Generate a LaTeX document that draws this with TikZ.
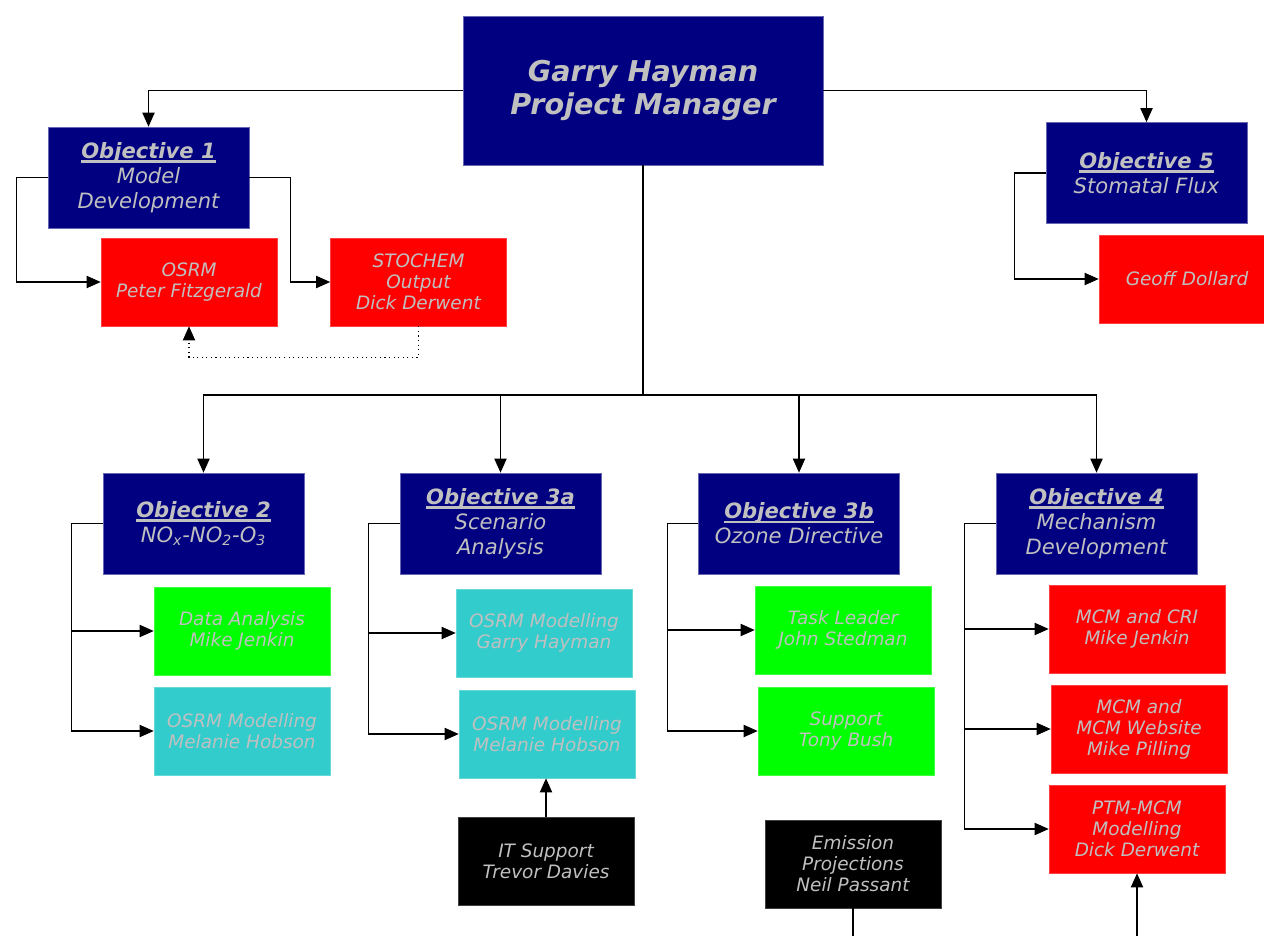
\documentclass[tikz,border=0pt]{standalone}
\usepackage{fontspec}
\setmainfont{DejaVu Sans}
\usetikzlibrary{arrows.meta}
\definecolor{objBlue}{HTML}{000080}
\definecolor{taskRed}{HTML}{FF0000}
\definecolor{taskGreen}{HTML}{00FF00}
\definecolor{taskTeal}{HTML}{33CCCC}
\definecolor{txtGrey}{HTML}{C0C0C0}
\newcommand{\objhead}[1]{\setbox0\hbox{\textbf{#1}}\rlap{\raisebox{-2.4pt}{\rule{\wd0}{1.3pt}}}\box0}

\begin{document}
\begin{tikzpicture}[x=0.02cm,y=-0.02cm,
  base/.style={rectangle,inner sep=0pt,align=center,text=txtGrey},
  mgr/.style={base,fill=objBlue,draw=objBlue!60!white,minimum width=7.2cm,minimum height=2.98cm,
    font=\bfseries\itshape\fontsize{16.3}{19.3}\selectfont},
  obj/.style={base,fill=objBlue,draw=objBlue!60!white,minimum width=4.02cm,minimum height=2.02cm,
    font=\itshape\fontsize{12}{14.2}\selectfont},
  task/.style={base,fill=#1,draw=#1!75!white,minimum width=3.52cm,minimum height=1.76cm,
    font=\itshape\fontsize{10.5}{11.9}\selectfont},
  arr/.style={-{Triangle[length=8pt,width=7pt]},line width=0.6pt}]
  \useasboundingbox (0,0) rectangle (1264,936);
  % manager and objectives
  \node[mgr] (pm) at (643,90.5) {Garry Hayman\\Project Manager};
  \node[obj] (o1) at (148.5,177.5) {\objhead{Objective 1}\\Model\\Development};
  \node[obj] (o5) at (1146.5,173) {\objhead{Objective 5}\\Stomatal Flux};
  \node[obj] (o2) at (203.5,523.5) {\objhead{Objective 2}\\NO\textsubscript{x}-NO\textsubscript{2}-O\textsubscript{3}};
  \node[obj] (o3a) at (500.5,523.5) {\objhead{Objective 3a}\\Scenario\\Analysis};
  \node[obj] (o3b) at (799,523.5) {\objhead{Objective 3b}\\Ozone Directive};
  \node[obj] (o4) at (1096.5,523.5) {\objhead{Objective 4}\\Mechanism\\Development};
  % tasks
  \node[task=taskRed] (pf) at (189,282) {OSRM\\Peter Fitzgerald};
  \node[task=taskRed] (st) at (418.5,282) {STOCHEM\\Output\\Dick Derwent};
  \node[task=taskRed] (gd) at (1187,279) {Geoff Dollard};
  \node[task=taskGreen] (da) at (242,631) {Data Analysis\\Mike Jenkin};
  \node[task=taskTeal] (mh2) at (242,731) {OSRM Modelling\\Melanie Hobson};
  \node[task=taskTeal] (gh) at (544,633) {OSRM Modelling\\Garry Hayman};
  \node[task=taskTeal] (mh3) at (547,734) {OSRM Modelling\\Melanie Hobson};
  \node[task=black] (it) at (546,861) {IT Support\\Trevor Davies};
  \node[task=taskGreen] (tl) at (843,630) {Task Leader\\John Stedman};
  \node[task=taskGreen] (tb) at (846,731) {Support\\Tony Bush};
  \node[task=black] (em) at (853,864) {Emission\\Projections\\Neil Passant};
  \node[task=taskRed] (cri) at (1137,629) {MCM and CRI\\Mike Jenkin};
  \node[task=taskRed] (web) at (1139,729) {MCM and\\MCM Website\\Mike Pilling};
  \node[task=taskRed] (ptm) at (1137,829) {PTM-MCM\\Modelling\\Dick Derwent};
  \coordinate (hub) at (643,395);
  \coordinate (emEnd) at (853,936);
  \coordinate (ptmIn) at (1137,936);
  % connectors
  \draw[arr] (pm.west) -| (o1.north);
  \draw[arr] (pm.east) -| (o5.north);
  \draw[line width=0.6pt] (pm.south) -- (hub);
  \foreach \o in {o2,o3a,o3b,o4}
    \draw[arr] (hub) -| (\o.north);
  \draw[arr] (o1.west) -- ++(-31,0) |- (pf.west);
  \draw[arr] (o1.east) -- ++(41,0) |- (st.west);
  \draw[arr,dotted] (st.south) -- ++(0,31) -| (pf.south);
  \draw[arr] (o5.west) -- ++(-31,0) |- (gd.west);
  \foreach \t in {da,mh2}
    \draw[arr] (o2.west) -- ++(-31,0) |- (\t.west);
  \foreach \t in {gh,mh3}
    \draw[arr] (o3a.west) -- ++(-31,0) |- (\t.west);
  \foreach \t in {tl,tb}
    \draw[arr] (o3b.west) -- ++(-31,0) |- (\t.west);
  \foreach \t in {cri,web,ptm}
    \draw[arr] (o4.west) -- ++(-31,0) |- (\t.west);
  \draw[arr] (it.north) -- (it.north |- mh3.south);
  \draw[line width=0.6pt] (em.south) -- (emEnd);
  \draw[arr] (ptmIn) -- (ptm.south);
\end{tikzpicture}
\end{document}
